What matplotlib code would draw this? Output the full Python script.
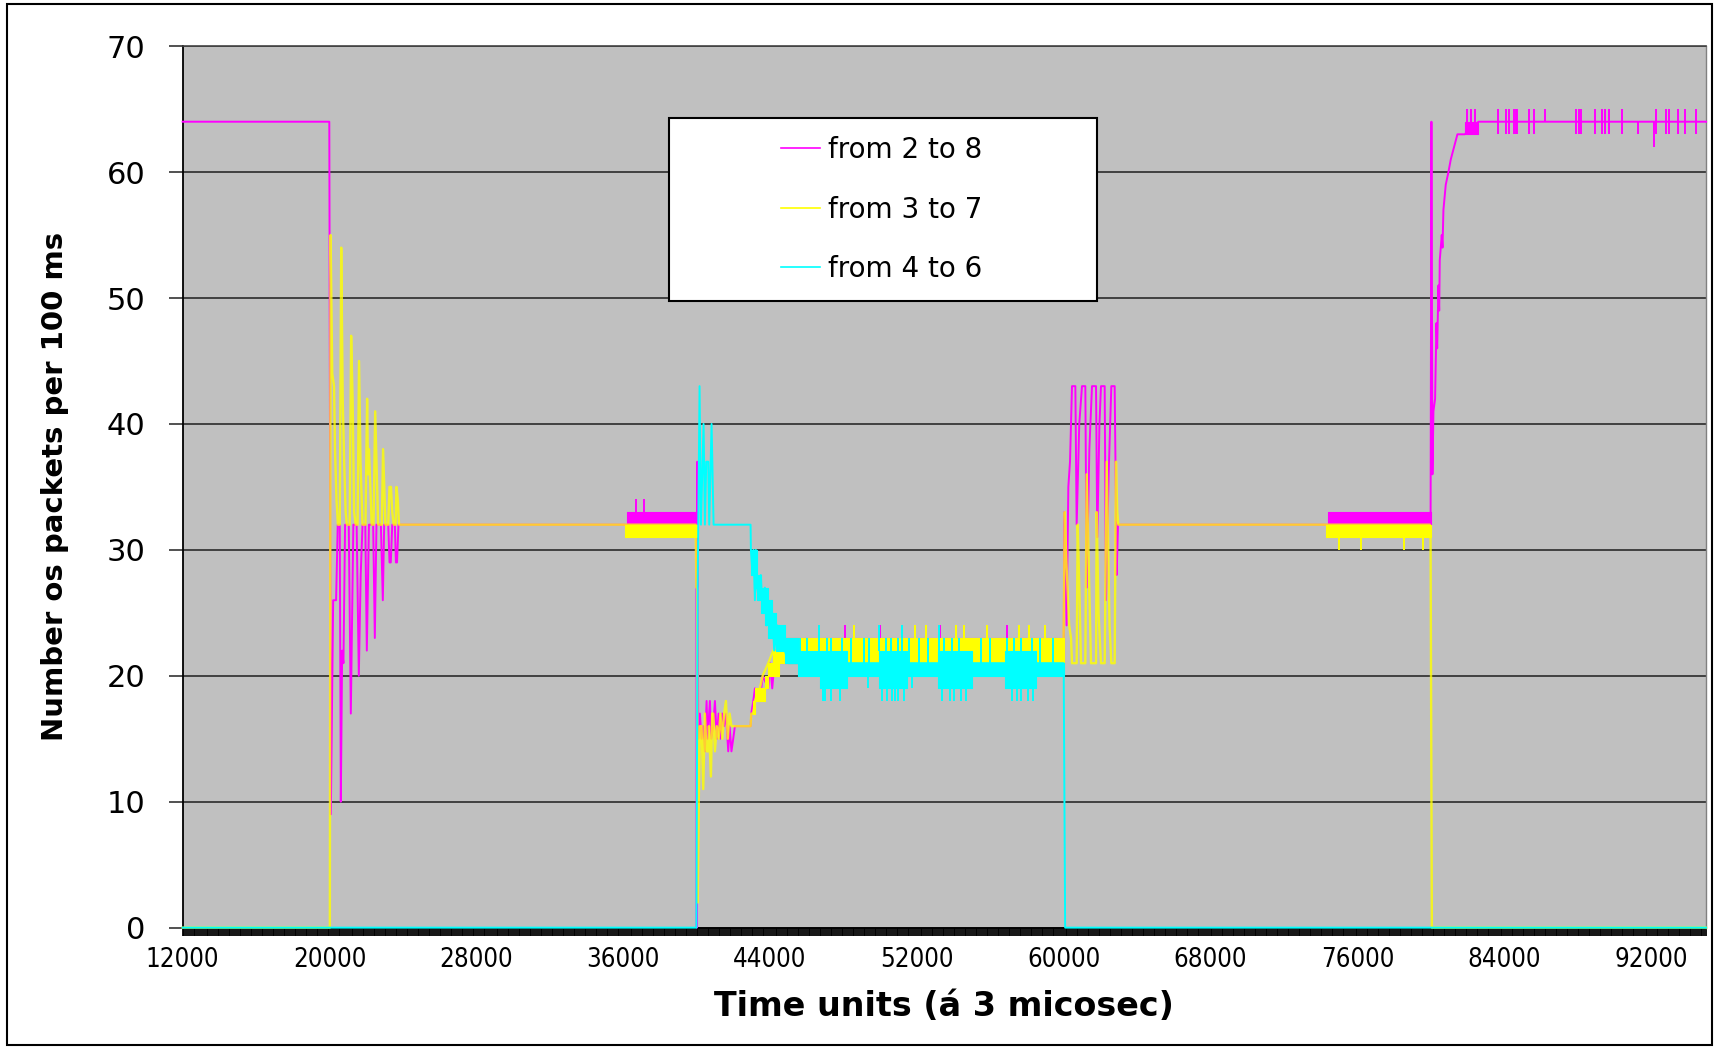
import matplotlib
matplotlib.use('Agg')
import matplotlib.pyplot as plt
from matplotlib.patches import Rectangle
from matplotlib.ticker import MultipleLocator
from matplotlib import font_manager as fm

# ---- data (x = time units, y = packets per 100 ms) ----
series_names = ['from 2 to 8', 'from 3 to 7', 'from 4 to 6']
series_colors = ['#FF00FF', '#FFFF00', '#00FFFF']

magenta_x = [
    12000, 19990, 20073, 20200, 20360, 20450, 20560, 20617, 20690, 20760, 20850,
    21050, 21162, 21300, 21480, 21598, 21700, 21800, 21950, 22034, 22150, 22380,
    22470, 22560, 22800, 22906, 22980, 23200, 23270, 23340, 23420, 23560, 23620,
    23680, 23760, 39990, 40010, 40040, 40090, 40180, 40272, 40363, 40454, 40545,
    40600, 40727, 40800, 40908, 40999, 41100, 41200, 41300, 41400, 41500, 41600,
    41725, 41800, 41900, 41997, 42088, 42942, 42980, 43090, 43180, 43450, 43600,
    43904, 44000, 44122, 44300, 44500, 60000, 60036, 60160, 60254, 60345, 60454,
    60636, 60708, 60850, 60999, 61180, 61253, 61400, 61544, 61762, 61830, 61950,
    62034, 62234, 62306, 62450, 62597, 62778, 62887, 62960, 79990, 80036, 80091,
    80145, 80236, 80309, 80350, 80418, 80460, 80490, 80599, 80640, 80690, 80817,
    80962, 81090, 81271, 81453, 81850, 82600, 95000]
magenta_y = [
    64, 64, 9, 26, 26, 32, 32, 10, 22, 21, 32,
    32, 17, 32, 32, 20, 28, 32, 32, 22, 32, 32,
    23, 32, 32, 26, 32, 32, 29, 29, 32, 32, 29,
    29, 32, 32, 0, 37, 15, 17, 15, 16, 14, 18,
    15, 18, 15, 16, 18, 15, 17, 15, 17, 16, 17,
    14, 16, 14, 15, 16, 16, 17, 18, 19, 18, 20,
    19, 21, 19, 22, 22, 22, 33, 24, 35, 37, 43,
    43, 32, 40, 43, 43, 27, 38, 43, 43, 31, 40,
    43, 43, 26, 36, 43, 43, 28, 32, 32, 64, 36,
    41, 42, 48, 46, 51, 49, 53, 55, 54, 57, 59,
    60, 61, 62, 63, 63, 64, 64]

yellow_x = [
    12000, 20020, 20060, 20150, 20250, 20300, 20380, 20460, 20560, 20640, 20720,
    20800, 20880, 20950, 21100, 21180, 21260, 21340, 21430, 21530, 21610, 21690,
    21800, 21960, 22050, 22100, 22150, 22300, 22400, 22490, 22650, 22850, 22920,
    23050, 23200, 23269, 23350, 23420, 23500, 23600, 23650, 23720, 23790, 39950,
    39990, 40030, 40060, 40120, 40180, 40272, 40363, 40454, 40545, 40636, 40672,
    40781, 40850, 40908, 40999, 41100, 41200, 41300, 41400, 41500, 41600, 41700,
    41800, 41900, 42088, 42942, 42980, 43087, 43178, 43450, 43600, 43904, 44177,
    44500, 59990, 60060, 60150, 60300, 60400, 60454, 60708, 60763, 60854, 60944,
    61180, 61253, 61489, 61762, 61798, 61900, 62034, 62234, 62343, 62500, 62597,
    62778, 62851, 62920, 62978, 79950, 79990, 80060, 95000]
yellow_y = [
    0, 0, 55, 44, 43, 38, 34, 32, 32, 54, 42,
    37, 33, 32, 32, 47, 42, 33, 32, 32, 45, 37,
    32, 32, 42, 36, 38, 32, 32, 41, 32, 32, 38,
    32, 32, 35, 35, 33, 32, 32, 35, 34, 32, 32,
    27, 27, 2, 10, 16, 16, 11, 17, 14, 14, 16,
    12, 17, 17, 14, 16, 15, 17, 15, 17, 18, 15,
    17, 16, 16, 16, 17, 17, 18, 19, 20, 21, 22,
    22, 22, 33, 29, 24, 23, 21, 21, 32, 27, 21,
    21, 36, 21, 21, 33, 25, 21, 21, 37, 24, 21,
    21, 37, 33, 32, 32, 31, 0, 0]

cyan_x = [
    12000, 39990, 40060, 40163, 40236, 40381, 40454, 40527, 40636, 40690, 40817,
    40926, 42942, 42960, 43050, 43100, 43178, 43230, 43300, 43400, 43500, 43600,
    43723, 43800, 43904, 44000, 44122, 44231, 44400, 44600, 44812, 45000, 59950,
    60000, 60080, 95000]
cyan_y = [
    0, 0, 27, 43, 32, 40, 32, 37, 37, 32, 40,
    32, 32, 30, 28, 30, 26, 30, 27, 26, 28, 25,
    27, 24, 26, 23, 25, 22, 24, 22, 22, 21, 21,
    21, 0, 0]

# dense oscillation envelopes (start, end, low, high)
magenta_band_start = [36200, 44500, 74400, 81850]
magenta_band_end = [40000, 60000, 80000, 82600]
magenta_band_low = [32, 21, 32, 63]
magenta_band_high = [33, 23, 33, 64]

yellow_band_start = [36100, 43100, 43200, 43450, 43720, 43900, 44180, 44500, 74300]
yellow_band_end = [40000, 43200, 43450, 43720, 43900, 44180, 44500, 60000, 80000]
yellow_band_low = [31, 17, 18, 18, 19, 20, 20, 21, 31]
yellow_band_high = [32, 18, 19, 19, 20, 21, 22, 23, 32]

cyan_band_start = [42960, 43150, 43300, 43500, 43720, 43900, 44100, 44300, 44800,
                   45500, 46700, 48200, 49950, 51450, 53170, 54990, 56800, 58500]
cyan_band_end = [43150, 43300, 43500, 43720, 43900, 44100, 44300, 44800, 45500,
                 46700, 48200, 49950, 51450, 53170, 54990, 56800, 58500, 60000]
cyan_band_low = [28, 27, 26, 25, 24, 23, 23, 22, 21, 20, 19, 20, 19, 20, 19, 20, 19, 20]
cyan_band_high = [30, 30, 28, 27, 27, 26, 25, 24, 23, 22, 22, 21, 22, 21, 22, 21, 22, 21]

# isolated excursions out of the bands (x, from, to)
magenta_spike_x = [36680, 37130, 48100, 50000, 53262, 56894,
                   82000, 82200, 82400,
                   83668, 84086, 84250, 84540, 84630, 84720,
                   85357, 85630, 86229, 87900, 88050, 88172,
                   88953, 89352, 89500, 89716, 90406, 91296,
                   92167, 92258, 92803, 92984, 93474, 93856, 94437]
magenta_spike_lo = [33, 33, 23, 23, 23, 23,
                    64, 64, 64,
                    63, 63, 63, 63, 63, 63,
                    63, 63, 64, 63, 63, 63,
                    63, 63, 63, 63, 63, 63,
                    62, 63, 63, 63, 63, 63, 63]
magenta_spike_hi = [34, 34, 24, 24, 24, 24,
                    65, 65, 65,
                    65, 65, 65, 65, 65, 65,
                    65, 65, 65, 65, 65, 65,
                    65, 65, 65, 65, 65, 64,
                    64, 65, 65, 65, 65, 65, 65]

yellow_spike_x = [75006, 76205, 78547, 79582, 48600, 51900, 52500, 54150, 54550,
                  55800, 57560, 58100, 59000]
yellow_spike_lo = [30, 30, 30, 30, 23, 23, 23, 23, 23, 23, 23, 23, 23]
yellow_spike_hi = [31, 31, 31, 31, 24, 24, 24, 24, 24, 24, 24, 24, 24]

cyan_spike_x = [45300, 45650, 46000, 46665, 47100, 47350, 47900, 48400, 49100, 49400,
                49950, 50300, 50600, 50950, 51205, 51600, 52100, 52600, 53202, 53500,
                53900, 54300, 55500, 56000, 56900, 57300, 57700, 58300, 58700, 59400,
                46900, 47000, 47300, 47800, 49357, 50100, 50350, 50650, 50830, 51000,
                51300, 51718, 53350, 53800, 54050, 54400, 54700, 57200, 57450, 57700,
                58050, 58350]
cyan_spike_lo = [21, 21, 21, 22, 22, 22, 22, 21, 21, 21,
                 22, 22, 22, 22, 22, 21, 21, 21, 22, 22,
                 22, 22, 21, 21, 22, 22, 22, 22, 21, 21,
                 18, 18, 18, 18, 19, 18, 18, 18, 18, 18,
                 18, 19, 18, 18, 18, 18, 18, 18, 18, 18,
                 18, 18]
cyan_spike_hi = [23, 23, 23, 24, 23, 23, 23, 23, 23, 23,
                 24, 23, 23, 23, 24, 23, 23, 23, 24, 23,
                 23, 23, 23, 23, 23, 23, 23, 23, 23, 23,
                 19, 19, 19, 19, 20, 19, 19, 19, 19, 19,
                 19, 20, 19, 19, 19, 19, 19, 19, 19, 19,
                 19, 19]

x_tick_values = [12000, 20000, 28000, 36000, 44000, 52000, 60000, 68000, 76000, 84000, 92000]
y_tick_values = [0, 10, 20, 30, 40, 50, 60, 70]

# ---- figure ----
fig = plt.figure(figsize=(17.15, 10.49), dpi=100)
ax = fig.add_axes([0.1065, 0.1157, 0.8883, 0.8403])
ax.set_facecolor('#C0C0C0')

series = [
    (magenta_x, magenta_y, magenta_band_start, magenta_band_end, magenta_band_low, magenta_band_high,
     magenta_spike_x, magenta_spike_lo, magenta_spike_hi),
    (yellow_x, yellow_y, yellow_band_start, yellow_band_end, yellow_band_low, yellow_band_high,
     yellow_spike_x, yellow_spike_lo, yellow_spike_hi),
    (cyan_x, cyan_y, cyan_band_start, cyan_band_end, cyan_band_low, cyan_band_high,
     cyan_spike_x, cyan_spike_lo, cyan_spike_hi),
]

handles = []
for i, (px, py, bs, be, bl, bh, sx, slo, shi) in enumerate(series):
    col = series_colors[i]
    z = 3 + i * 0.3
    for x0, x1, lo, hi in zip(bs, be, bl, bh):
        ax.fill_between([x0, x1], [lo, lo], [hi, hi], color=col, lw=0.8, zorder=z)
    ax.vlines(sx, slo, shi, color=col, lw=1.4, zorder=z + 0.1)
    # yellow drawn a bit wider and translucent so it turns orange over magenta
    alpha = 0.8 if i == 1 else 1.0
    lw = 1.7 if i == 1 else 1.4
    ln, = ax.plot(px, py, color=col, lw=lw, alpha=alpha, zorder=z + 0.2,
                  clip_on=False, label=series_names[i])
    handles.append(ln)

ax.set_xlim(12000, 95000)
ax.set_ylim(0, 70)

ax.set_yticks(y_tick_values)
ax.set_yticklabels([str(v) for v in y_tick_values], fontsize=22)
ax.set_xticks(x_tick_values)

names = {f.name for f in fm.fontManager.ttflist}
if 'Liberation Sans Narrow' in names:
    ax.set_xticklabels([str(v) for v in x_tick_values], fontsize=19, family='Liberation Sans Narrow')
else:
    ax.set_xticklabels([str(v) for v in x_tick_values], fontsize=18.5, fontstretch='condensed')

ax.xaxis.set_minor_locator(MultipleLocator(100))
ax.tick_params(axis='x', which='both', length=6, width=1.3, color='black', direction='out', pad=8)
ax.tick_params(axis='y', which='major', length=10, width=1.2, color='#333333', pad=17)
ax.tick_params(axis='y', which='minor', left=False)

ax.set_axisbelow(True)
ax.yaxis.grid(True, color='#2a2a2a', lw=1.2)
ax.xaxis.grid(False)

ax.spines['left'].set_color('black')
ax.spines['left'].set_linewidth(1.3)
ax.spines['bottom'].set_color('black')
ax.spines['bottom'].set_linewidth(1.3)
ax.spines['top'].set_color('#444444')
ax.spines['top'].set_linewidth(1.2)
ax.spines['right'].set_color('#808080')
ax.spines['right'].set_linewidth(1.0)

ax.set_xlabel('Time units (á 3 micosec)', fontsize=24, fontweight='bold', va='center')
ax.xaxis.set_label_coords(0.5, -0.089)
ax.set_ylabel('Number os packets per 100 ms', fontsize=21, fontweight='bold', va='center')
ax.yaxis.set_label_coords(-0.0838, 0.5)

# legend box
box = Rectangle((0.3192, 0.7108), 0.2810, 0.2075, transform=ax.transAxes,
                facecolor='white', edgecolor='black', lw=1.5, zorder=10, clip_on=False)
ax.add_patch(box)
leg = ax.legend(handles=handles, loc='center', bbox_to_anchor=(0.4590, 0.8146),
                frameon=False, fontsize=20, handlelength=1.4, handletextpad=0.3,
                labelspacing=1.13)
leg.set_zorder(11)
for h in leg.legend_handles:
    h.set_alpha(1)
    h.set_linewidth(1.2)

fig.add_artist(Rectangle((0.0041, 0.0038), 0.9942, 0.9924, transform=fig.transFigure,
                         fill=False, edgecolor='black', lw=1.5))

fig.savefig('out.png', dpi=100)
